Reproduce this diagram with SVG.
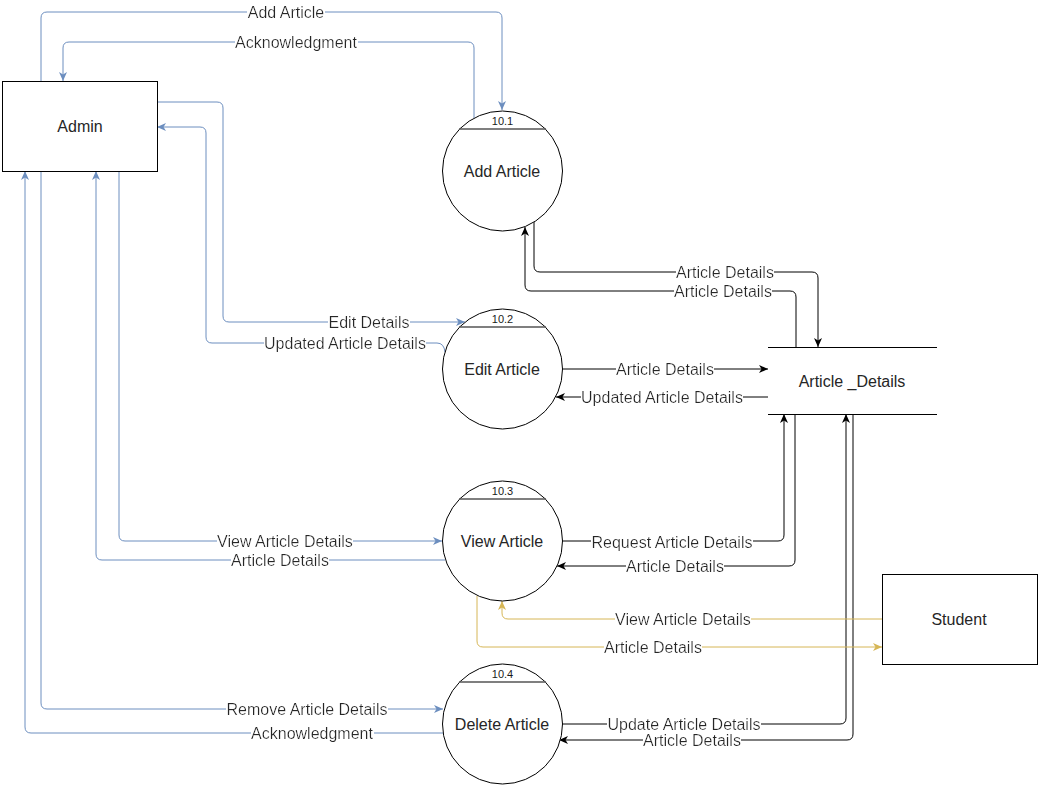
<svg xmlns="http://www.w3.org/2000/svg" width="1040" height="787" viewBox="0 0 1040 787">
  <style>
    text { font-family: "Liberation Sans", Arial, sans-serif; font-size: 16px; fill: #262626; text-anchor: middle; }
    .num { font-size: 11px; fill: #1a1a1a; }
    .box { fill: #ffffff; stroke: #000000; stroke-width: 1; }
    .proc { fill: #ffffff; stroke: #000000; stroke-width: 1; }
    .hdr { stroke: #555555; stroke-width: 1.5; }
    .store { stroke: #000000; stroke-width: 1; }
    .flow { fill: none; stroke-width: 1; }
    .blue { stroke: #6c8ebf; }
    .black { stroke: #000000; }
    .yellow { stroke: #d6b656; }
    .lbl { filter: url(#labelBg); }
  </style>
  <defs>
    <!-- white backing behind edge labels -->
    <filter id="labelBg" x="0" y="0" width="1" height="1">
      <feFlood flood-color="#ffffff"/>
      <feComposite in="SourceGraphic"/>
    </filter>
    <marker id="arrBlue" markerUnits="userSpaceOnUse" markerWidth="10" markerHeight="8" refX="9" refY="4" orient="auto">
      <path d="M0,0 L9,4 L0,8 L2.5,4 z" fill="#6c8ebf"/>
    </marker>
    <marker id="arrBlack" markerUnits="userSpaceOnUse" markerWidth="10" markerHeight="8" refX="9" refY="4" orient="auto">
      <path d="M0,0 L9,4 L0,8 L2.5,4 z" fill="#000000"/>
    </marker>
    <marker id="arrYellow" markerUnits="userSpaceOnUse" markerWidth="10" markerHeight="8" refX="9" refY="4" orient="auto">
      <path d="M0,0 L9,4 L0,8 L2.5,4 z" fill="#d6b656"/>
    </marker>
  </defs>

  <rect width="1040" height="787" fill="#ffffff"/>

  <!-- data flows -->
  <g id="connectors">
    <!-- Admin flows -->
    <path class="flow blue" d="M41,81 L41,18 Q41,12 47,12 L496,12 Q502,12 502,18 L502,110" marker-end="url(#arrBlue)"/>
    <path class="flow blue" d="M474,118 L474,48 Q474,42 468,42 L69,42 Q63,42 63,48 L63,81" marker-end="url(#arrBlue)"/>
    <path class="flow blue" d="M157,102 L217,102 Q223,102 223,108 L223,316 Q223,322 229,322 L465,322" marker-end="url(#arrBlue)"/>
    <path class="flow blue" d="M445,352 Q444,343 437,343 L212,343 Q206,343 206,337 L206,133 Q206,127 200,127 L157,127" marker-end="url(#arrBlue)"/>
    <path class="flow blue" d="M119,171 L119,535 Q119,541 125,541 L442,541" marker-end="url(#arrBlue)"/>
    <path class="flow blue" d="M445,560 L102,560 Q96,560 96,554 L96,171" marker-end="url(#arrBlue)"/>
    <path class="flow blue" d="M41,171 L41,703 Q41,709 47,709 L443,709" marker-end="url(#arrBlue)"/>
    <path class="flow blue" d="M443,733 L31,733 Q25,733 25,727 L25,171" marker-end="url(#arrBlue)"/>

    <!-- data store flows -->
    <path class="flow black" d="M534,222 L534,266 Q534,272 540,272 L812,272 Q818,272 818,278 L818,347" marker-end="url(#arrBlack)"/>
    <path class="flow black" d="M796,347 L796,297 Q796,291 790,291 L531,291 Q525,291 525,285 L525,227" marker-end="url(#arrBlack)"/>
    <path class="flow black" d="M562,369 L768,369" marker-end="url(#arrBlack)"/>
    <path class="flow black" d="M768,397 L556,397" marker-end="url(#arrBlack)"/>
    <path class="flow black" d="M562,541 L778,541 Q784,541 784,535 L784,414" marker-end="url(#arrBlack)"/>
    <path class="flow black" d="M795,414 L795,560 Q795,566 789,566 L557,566" marker-end="url(#arrBlack)"/>
    <path class="flow black" d="M562,724 L840,724 Q846,724 846,718 L846,414" marker-end="url(#arrBlack)"/>
    <path class="flow black" d="M853,414 L853,734 Q853,740 847,740 L559,740" marker-end="url(#arrBlack)"/>

    <!-- Student flows -->
    <path class="flow yellow" d="M882,619 L508,619 Q502,619 502,613 L502,601" marker-end="url(#arrYellow)"/>
    <path class="flow yellow" d="M477,596 L477,641 Q477,647 483,647 L882,647" marker-end="url(#arrYellow)"/>

    <!-- flow labels -->
    <text class="lbl" x="286" y="17.5">Add Article</text>
    <text class="lbl" x="296" y="47.5">Acknowledgment</text>
    <text class="lbl" x="369" y="327.5">Edit Details</text>
    <text class="lbl" x="345" y="348.5">Updated Article Details</text>
    <text class="lbl" x="285" y="546.5">View Article Details</text>
    <text class="lbl" x="280" y="565.5">Article Details</text>
    <text class="lbl" x="307" y="714.5">Remove Article Details</text>
    <text class="lbl" x="312" y="738.5">Acknowledgment</text>
    <text class="lbl" x="725" y="277.5">Article Details</text>
    <text class="lbl" x="723" y="296.5">Article Details</text>
    <text class="lbl" x="665" y="374.5">Article Details</text>
    <text class="lbl" x="662" y="402.5">Updated Article Details</text>
    <text class="lbl" x="672" y="547.5">Request Article Details</text>
    <text class="lbl" x="675" y="571.5">Article Details</text>
    <text class="lbl" x="683" y="624.5">View Article Details</text>
    <text class="lbl" x="653" y="652.5">Article Details</text>
    <text class="lbl" x="684" y="729.5">Update Article Details</text>
    <text class="lbl" x="692" y="745.5">Article Details</text>
  </g>

  <!-- external entities -->
  <g id="admin">
    <rect class="box" x="2.5" y="81.5" width="155" height="90"/>
    <text x="80" y="132">Admin</text>
  </g>
  <g id="student">
    <rect class="box" x="882.5" y="574.5" width="155" height="90"/>
    <text x="959" y="625">Student</text>
  </g>

  <!-- processes -->
  <g id="add-article">
    <circle class="proc" cx="502.5" cy="171" r="60"/>
    <line class="hdr" x1="459" y1="129" x2="546" y2="129"/>
    <text class="num" x="502.5" y="125">10.1</text>
    <text x="502" y="177">Add Article</text>
  </g>
  <g id="edit-article">
    <circle class="proc" cx="502.5" cy="369" r="60"/>
    <line class="hdr" x1="459" y1="327" x2="546" y2="327"/>
    <text class="num" x="502.5" y="323">10.2</text>
    <text x="502" y="375">Edit Article</text>
  </g>
  <g id="view-article">
    <circle class="proc" cx="502.5" cy="541" r="60"/>
    <line class="hdr" x1="459" y1="499" x2="546" y2="499"/>
    <text class="num" x="502.5" y="495">10.3</text>
    <text x="502" y="547">View Article</text>
  </g>
  <g id="delete-article">
    <circle class="proc" cx="502.5" cy="724" r="60"/>
    <line class="hdr" x1="459" y1="682" x2="546" y2="682"/>
    <text class="num" x="502.5" y="678">10.4</text>
    <text x="502" y="730">Delete Article</text>
  </g>

  <!-- data store -->
  <g id="article-details-store">
    <line class="store" x1="768" y1="347.5" x2="937" y2="347.5"/>
    <line class="store" x1="768" y1="414.5" x2="937" y2="414.5"/>
    <text x="852" y="387">Article _Details</text>
  </g>
</svg>
